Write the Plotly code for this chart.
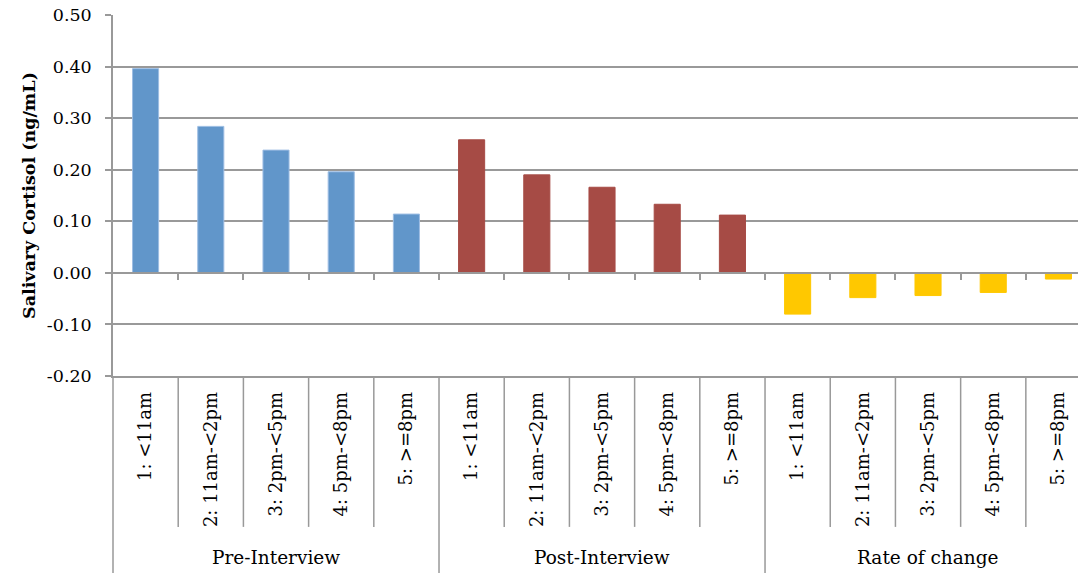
import plotly.graph_objects as go

# Time-of-day slots and the three measurement groups
slots = ["1: <11am", "2: 11am-<2pm", "3: 2pm-<5pm", "4: 5pm-<8pm", "5: >=8pm"]
groups = ["Pre-Interview", "Post-Interview", "Rate of change"]

# Salivary cortisol (ng/mL) per slot
pre_interview = [0.396, 0.284, 0.238, 0.196, 0.114]
post_interview = [0.258, 0.190, 0.166, 0.133, 0.112]
rate_of_change = [-0.080, -0.048, -0.044, -0.038, -0.012]

y_ticks = [-0.20, -0.10, 0.00, 0.10, 0.20, 0.30, 0.40, 0.50]
y_tick_labels = [f"{v:.2f}" for v in y_ticks]

series = [pre_interview, post_interview, rate_of_change]
colors = ["#6196CA", "#A64B45", "#FFC800"]
edge_colors = ["#9DBDE3", "#A64B45", "#FFC800"]

FONT = "DejaVu Serif"
GRID = "#999999"
n = len(slots)
x_min, x_max = -0.5, 14.3
y_min, y_max = y_ticks[0], y_ticks[-1]

fig = go.Figure()

positions, labels = [], []
for gi, (vals, col, edge) in enumerate(zip(series, colors, edge_colors)):
    xs = [gi * n + i for i in range(n)]
    positions += xs
    labels += slots
    fig.add_trace(go.Bar(
        x=xs, y=vals, width=0.4,
        marker=dict(color=col, line=dict(color=edge, width=1)),
        name=groups[gi], showlegend=False,
    ))

# Carrier for the axis drawn along the zero line
fig.add_trace(go.Scatter(x=[None], y=[None], xaxis="x2", showlegend=False,
                         hoverinfo="skip"))

boundaries = [k - 0.5 for k in range(1, len(positions) + 1)]
zero_pos = (0 - y_min) / (y_max - y_min)

fig.update_layout(
    width=1078, height=573, autosize=False,
    margin=dict(l=113, r=0, t=15, b=197),
    paper_bgcolor="white", plot_bgcolor="white",
    barmode="overlay",
    font=dict(family=FONT, size=18, color="black"),
    xaxis=dict(
        range=[x_min, x_max], tickvals=positions, ticktext=labels,
        tickangle=-90, ticks="", showgrid=False, zeroline=False,
        showline=True, linecolor=GRID, linewidth=1.5,
        ticklabelstandoff=7, automargin=False,
        tickfont=dict(family=FONT, size=18, color="black"),
    ),
    xaxis2=dict(
        overlaying="x", anchor="free", position=zero_pos,
        range=[x_min, x_max], tickvals=boundaries,
        ticks="outside", ticklen=6, tickcolor=GRID, tickwidth=1.5,
        showticklabels=False, showgrid=False, zeroline=False,
        showline=True, linecolor=GRID, linewidth=1.5, automargin=False,
    ),
    yaxis=dict(
        range=[y_min, y_max], tickvals=y_ticks, ticktext=y_tick_labels,
        showgrid=True, gridcolor=GRID, gridwidth=1.5, zeroline=False,
        showline=True, linecolor=GRID, linewidth=1.5,
        ticks="outside", ticklen=6, tickcolor=GRID, tickwidth=1.5,
        ticklabelstandoff=10, automargin=False,
        tickfont=dict(family=FONT, size=17.5, color="black"),
        title=dict(text="Salivary Cortisol (ng/mL)", standoff=7,
                   font=dict(family=FONT, size=17.5, color="black",
                             weight="bold")),
    ),
)

# Category separators below the plot area
label_bottom = -0.418
for k, b in enumerate(boundaries[:-1], start=1):
    full = (k % n == 0)
    fig.add_shape(type="line", xref="x", yref="paper",
                  x0=b, x1=b, y0=0, y1=-0.6 if full else label_bottom,
                  line=dict(color=GRID, width=1.5))
fig.add_shape(type="line", xref="paper", yref="paper", x0=0, x1=0,
              y0=0, y1=-0.6, line=dict(color=GRID, width=1.5))

# Group labels
for gi, g in enumerate(groups):
    fig.add_annotation(x=gi * n + (n - 1) / 2, y=-0.504, xref="x", yref="paper",
                       text=g, showarrow=False, yanchor="middle",
                       font=dict(family=FONT, size=18.5, color="black"))

fig.write_html("out.html")
